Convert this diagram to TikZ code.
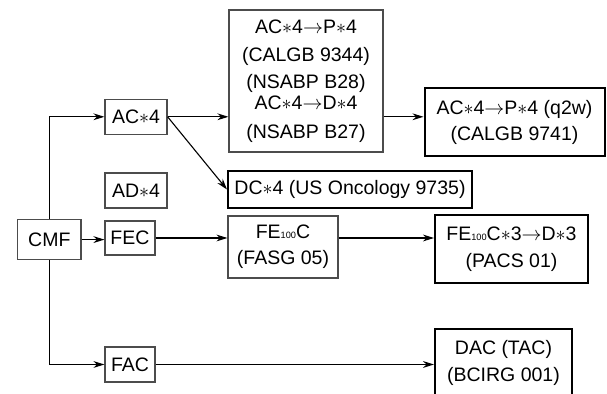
\documentclass[tikz,border=0pt]{standalone}
\usepackage{fontspec}
\setmainfont{Liberation Sans}
\usetikzlibrary{arrows.meta}
\newcommand{\tms}{\ensuremath{\ast}}
\newcommand{\toarr}{\ensuremath{\rightarrow}}
\newcommand{\hund}{{\fontsize{4.6}{5}\selectfont 100}}
\begin{document}
\begin{tikzpicture}[x=0.5pt,y=-0.5pt]
\tikzstyle{every node}+=[inner sep=0pt, font=\fontsize{9.75}{13}\selectfont, align=center]
\tikzstyle{regbox}=[draw=black!70, line width=0.6pt, rectangle]
\tikzstyle{endbox}=[draw=black, line width=1pt, rectangle]
\tikzstyle{flow}=[line width=0.55pt, -{Stealth[length=5.5pt,width=3.4pt]}]
\clip (0,0) rectangle (607,394);
\node [regbox, minimum width=31.75pt, minimum height=20.25pt] (cmf) at (49.3,239.6) {CMF};
\node [regbox, minimum width=31pt, minimum height=17.5pt] (ac) at (136,116.8) {AC\tms4};
\node [regbox, minimum width=31pt, minimum height=17.5pt] (ad) at (136,190.5) {AD\tms4};
\node [regbox, minimum width=25pt, minimum height=17pt] (fec) at (130,238) {FEC};
\node [regbox, minimum width=25pt, minimum height=17.5pt] (fac) at (130,364.5) {FAC};
\node [regbox, minimum width=77pt, minimum height=71pt] (trials) at (306,81)
  {AC\tms4\toarr P\tms4\\[1.4pt] (CALGB 9344)\\[0.4pt] (NSABP B28)\\[-2.6pt] AC\tms4\toarr D\tms4\\[1.4pt] (NSABP B27)};
\node [endbox, minimum width=90pt, minimum height=34pt] (q2w) at (514.5,122.3)
  {AC\tms4\toarr P\tms4 (q2w)\\ (CALGB 9741)};
\node [endbox, minimum width=122pt, minimum height=18.5pt] (dc) at (350,189.5) {DC\tms4 (US Oncology 9735)};
\node [regbox, minimum width=55pt, minimum height=31pt] (fe) at (283,247) {FE\hund C\\ (FASG 05)};
\node [endbox, minimum width=76.5pt, minimum height=34pt] (fed) at (511.5,249)
  {FE\hund C\tms3\toarr D\tms3\\[0.7pt] (PACS 01)};
\node [endbox, minimum width=68.5pt, minimum height=34pt] (dac) at (503.5,363)
  {DAC (TAC)\\[0.4pt] (BCIRG 001)};
\draw [flow] (cmf.north) |- (ac.west);
\draw [flow] (cmf.east) -- (cmf.east -| fec.west);
\draw [flow] (cmf.south) |- (fac.west);
\draw [flow] (ac.east) -- (ac.east -| trials.west);
\draw [flow] (ac.east) -- (dc.west);
\draw [flow] (ac.east -| trials.east) -- (ac.east -| q2w.west);
\draw [flow] (fec.east) -- (fec.east -| fe.west);
\draw [flow] (fec.east -| fe.east) -- (fec.east -| fed.west);
\draw [flow] (fac.east) -- (fac.east -| dac.west);
\end{tikzpicture}
\end{document}
